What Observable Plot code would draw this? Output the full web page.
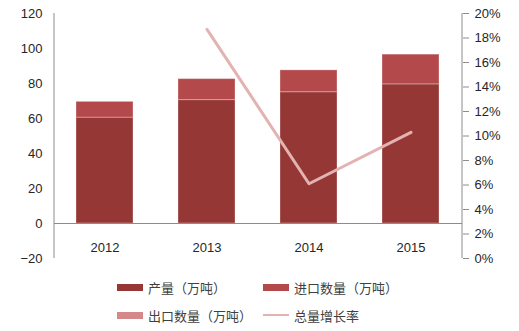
<!DOCTYPE html>
<html>
<head>
<meta charset="utf-8">
<script src="https://cdn.jsdelivr.net/npm/d3@7"></script>
<script src="https://cdn.jsdelivr.net/npm/@observablehq/plot@0.6"></script>
<style>
body { margin: 0; background: #fff; font-family: "Liberation Sans", "Noto Sans CJK SC", sans-serif; }
#chart { position: relative; width: 519px; height: 331px; }
.legend { position: absolute; left: 0; top: 270px; width: 519px; height: 61px; font-family: "Noto Sans CJK SC", sans-serif; font-size: 13px; color: #404040; }
.item { position: absolute; display: flex; align-items: center; height: 16px; }
.sw { width: 26px; height: 7px; margin-right: 5px; }
.ln { width: 26px; height: 2px; margin-right: 5px; }
</style>
</head>
<body>
<div id="chart"></div>
<script>
const years = ["2012", "2013", "2014", "2015"];
const production = [60.5, 70.5, 75, 79.5];   // 产量（万吨）
const imports = [9, 12, 12.5, 17];           // 进口数量（万吨）
const exportsQ = [0, 0, 0, 0];               // 出口数量（万吨）
const growthYears = ["2013", "2014", "2015"];
const growth = [18.7, 6.1, 10.3];            // 总量增长率 (%)
const leftTicks = [-20, 0, 20, 40, 60, 80, 100, 120];
const rightTicks = [0, 2, 4, 6, 8, 10, 12, 14, 16, 18, 20];

const seriesNames = ["产量（万吨）", "进口数量（万吨）", "出口数量（万吨）"];
const colors = ["#953735", "#B3494B", "#D4888A"];
const lineColor = "#E3B3B2";

const rows = [];
years.forEach((y, i) => {
  rows.push({year: y, series: seriesNames[0], value: production[i]});
  rows.push({year: y, series: seriesNames[1], value: imports[i]});
  rows.push({year: y, series: seriesNames[2], value: exportsQ[i]});
});
// map percent (0..20) to left scale (-20..120)
const toLeft = g => -20 + g * 7;
const lineData = growthYears.map((y, i) => ({year: y, v: toLeft(growth[i])}));

const plot = Plot.plot({
  width: 519,
  height: 270,
  marginLeft: 54,
  marginRight: 57,
  marginTop: 13,
  marginBottom: 12,
  style: {fontFamily: "Liberation Sans, sans-serif", fontSize: "13px", color: "#262626"},
  x: {domain: years, paddingInner: 0.44, paddingOuter: 0.22, axis: null},
  y: {domain: [-20, 120], axis: null},
  color: {domain: seriesNames, range: colors},
  marks: [
    Plot.barY(rows, {x: "year", y: "value", fill: "series", order: seriesNames, stroke: "#ffffff", strokeOpacity: 0.3, strokeWidth: 1}),
    Plot.ruleY([0], {stroke: "#8c8c8c", strokeWidth: 1.2}),
    Plot.axisY(leftTicks, {anchor: "left", tickSize: 0, tickPadding: 12, fill: "#262626", fontSize: 13}),
    Plot.axisY(rightTicks.map(toLeft), {anchor: "right", tickSize: 6, tickPadding: 6, stroke: "#8c8c8c", fill: "#262626", fontSize: 13, tickFormat: v => Math.round((v + 20) / 7) + "%"}),
    Plot.text(years, {x: d => d, y: -14, text: d => d, fill: "#262626", fontSize: 13}),
    Plot.lineY(lineData, {x: "year", y: "v", stroke: lineColor, strokeWidth: 3})
  ]
});
document.getElementById("chart").appendChild(plot);

// axis lines drawn through the y scale
const sy = plot.scale("y");
const svg = d3.select(plot);
const xL = 54, xR = 519 - 57;
svg.append("line").attr("x1", xL).attr("x2", xL).attr("y1", sy.apply(120)).attr("y2", sy.apply(-20)).attr("stroke", "#8c8c8c");
svg.append("line").attr("x1", xR).attr("x2", xR).attr("y1", sy.apply(120)).attr("y2", sy.apply(-20)).attr("stroke", "#8c8c8c");

// legend
const legend = document.createElement("div");
legend.className = "legend";
const items = [
  {label: seriesNames[0], color: colors[0], left: 117, top: 9, type: "sw"},
  {label: seriesNames[1], color: colors[1], left: 263, top: 9, type: "sw"},
  {label: seriesNames[2], color: colors[2], left: 117, top: 37, type: "sw"},
  {label: "总量增长率", color: lineColor, left: 263, top: 37, type: "ln"}
];
items.forEach(it => {
  const d = document.createElement("div");
  d.className = "item";
  d.style.left = it.left + "px";
  d.style.top = it.top + "px";
  const s = document.createElement("span");
  s.className = it.type;
  s.style.background = it.color;
  d.appendChild(s);
  const t = document.createElement("span");
  t.textContent = it.label;
  d.appendChild(t);
  legend.appendChild(d);
});
document.getElementById("chart").appendChild(legend);
</script>
</body>
</html>
